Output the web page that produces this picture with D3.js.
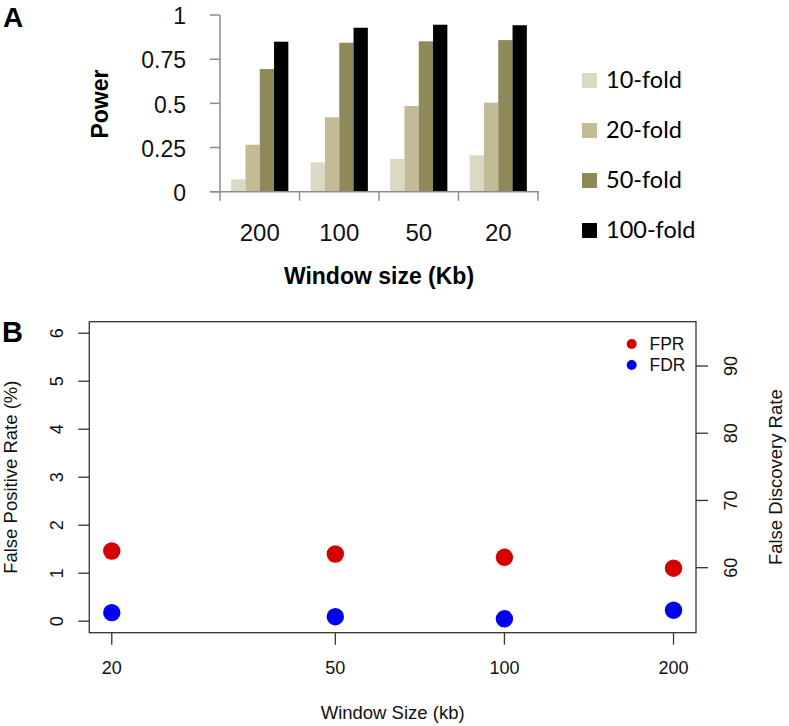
<!DOCTYPE html>
<html>
<head>
<meta charset="utf-8">
<script src="https://cdn.jsdelivr.net/npm/d3@7"></script>
<style>
  html, body { margin: 0; padding: 0; background: #fff; }
  svg { display: block; }
</style>
</head>
<body>
<svg id="chart" width="789" height="726"></svg>
<script>
// ---------- Panel A data ----------
const categoriesA = ["200", "100", "50", "20"];
const seriesA = ["10-fold", "20-fold", "50-fold", "100-fold"];
const power10 = [0.070, 0.166, 0.185, 0.206];
const power20 = [0.266, 0.421, 0.485, 0.504];
const power50 = [0.694, 0.843, 0.851, 0.858];
const power100 = [0.849, 0.928, 0.945, 0.942];
const seriesColorsA = ["#dbd8c3", "#c2bb96", "#8f8859", "#000000"];
const yTicksA = [0, 0.25, 0.5, 0.75, 1];
const yTickLabelsA = ["0", "0.25", "0.5", "0.75", "1"];

// ---------- Panel B data ----------
const windowB = [20, 50, 100, 200];
const fprB = [1.462, 1.400, 1.331, 1.104];
const fdrB = [53.31, 52.71, 52.40, 53.68];
const yTicksLeftB = [0, 1, 2, 3, 4, 5, 6];
const yTicksRightB = [60, 70, 80, 90];
const legendB = ["FPR", "FDR"];
const colorsB = ["#d40000", "#0000f0"];

const svg = d3.select("#chart");

function rotatedText(parent, x, y, str) {
  const g = parent.append("g").attr("transform", "translate(" + x + "," + y + ")");
  return g.append("text").attr("x", 0).attr("y", 0).attr("transform", "rotate(-90)").text(str);
}

// ================= Panel A =================
const A = { left: 220, right: 538, top: 15, bottom: 191.7 };
const x0 = d3.scaleBand().domain(categoriesA).range([A.left, A.right]).padding(0);
const x1 = d3.scaleBand().domain(seriesA).range([0, x0.bandwidth()]).paddingInner(0).paddingOuter(0.78);
const yA = d3.scaleLinear().domain([0, 1]).range([A.bottom, A.top]);
const colorA = d3.scaleOrdinal().domain(seriesA).range(seriesColorsA);
const valuesA = [power10, power20, power50, power100];

const gA = svg.append("g");
categoriesA.forEach((c, ci) => {
  seriesA.forEach((s, si) => {
    gA.append("rect")
      .attr("x", x0(c) + x1(s))
      .attr("y", yA(valuesA[si][ci]))
      .attr("width", x1.bandwidth())
      .attr("height", yA(0) - yA(valuesA[si][ci]))
      .attr("fill", colorA(s));
  });
});

// y axis A
const axisColA = "#8c8c8c";
gA.append("line").attr("x1", A.left).attr("x2", A.left).attr("y1", yA(1)).attr("y2", yA(0))
  .attr("stroke", axisColA).attr("stroke-width", 1.5);
yTicksA.forEach((t, i) => {
  gA.append("line").attr("x1", A.left - 10).attr("x2", A.left).attr("y1", yA(t)).attr("y2", yA(t))
    .attr("stroke", axisColA).attr("stroke-width", 1.5);
  gA.append("text").attr("x", 186).attr("y", yA(t)).attr("dy", "0.4em")
    .attr("text-anchor", "end").attr("font-family", "Liberation Sans, Arial, sans-serif")
    .attr("font-size", 23).attr("fill", "#111").text(yTickLabelsA[i]);
});
// x axis A
gA.append("line").attr("x1", A.left - 10).attr("x2", A.right + 1).attr("y1", yA(0)).attr("y2", yA(0))
  .attr("stroke", axisColA).attr("stroke-width", 1.5);
const boundaries = categoriesA.map(c => x0(c)).concat([x0(categoriesA[categoriesA.length - 1]) + x0.bandwidth()]);
boundaries.forEach(bx => {
  gA.append("line").attr("x1", bx).attr("x2", bx).attr("y1", yA(0)).attr("y2", yA(0) + 9)
    .attr("stroke", axisColA).attr("stroke-width", 1.5);
});
categoriesA.forEach(c => {
  gA.append("text").attr("x", x0(c) + x0.bandwidth() / 2).attr("y", 241)
    .attr("text-anchor", "middle").attr("font-family", "Liberation Sans, Arial, sans-serif")
    .attr("font-size", 24).attr("fill", "#111").text(c);
});
gA.append("text").attr("x", (A.left + A.right) / 2).attr("y", 284)
  .attr("text-anchor", "middle").attr("font-family", "Liberation Sans, Arial, sans-serif")
  .attr("font-weight", "bold").attr("font-size", 23).attr("fill", "#000").text("Window size (Kb)");
rotatedText(gA, 108, 104, "Power")
  .attr("text-anchor", "middle").attr("font-family", "Liberation Sans, Arial, sans-serif")
  .attr("font-weight", "bold").attr("font-size", 23).attr("fill", "#000");
gA.append("text").attr("x", 3).attr("y", 27)
  .attr("font-family", "Liberation Sans, Arial, sans-serif")
  .attr("font-weight", "bold").attr("font-size", 28).attr("fill", "#000").text("A");

// legend A
seriesA.forEach((s, i) => {
  const ly = 73 + i * 50;
  gA.append("rect").attr("x", 582).attr("y", ly).attr("width", 15).attr("height", 15).attr("fill", colorA(s));
  gA.append("text").attr("x", 606).attr("y", ly + 14.5)
    .attr("font-family", "Lato, Open Sans, sans-serif").attr("font-size", 23.5)
    .attr("fill", "#000").text(s);
});

// ================= Panel B =================
const B = { left: 89.3, right: 696, top: 321.7, bottom: 632.7 };
const logExt = d3.extent(windowB).map(Math.log10);
const pad = (logExt[1] - logExt[0]) * 0.04;
const xB = d3.scaleLog().domain([Math.pow(10, logExt[0] - pad), Math.pow(10, logExt[1] + pad)]).range([B.left, B.right]);
const yL = d3.scaleLinear().domain([-0.24, 6.24]).range([B.bottom, B.top]);
const yR = d3.scaleLinear().domain([50.33, 96.59]).range([B.bottom, B.top]);
const fontB = "Liberation Sans, Arial, Helvetica, sans-serif";
const axisColB = "#333";
const gB = svg.append("g");

gB.append("rect").attr("x", B.left).attr("y", B.top).attr("width", B.right - B.left).attr("height", B.bottom - B.top)
  .attr("fill", "none").attr("stroke", axisColB).attr("stroke-width", 1.3);

// left axis
yTicksLeftB.forEach(t => {
  gB.append("line").attr("x1", B.left - 11).attr("x2", B.left).attr("y1", yL(t)).attr("y2", yL(t))
    .attr("stroke", axisColB).attr("stroke-width", 1.3);
  rotatedText(gB, 63.3, yL(t), String(t))
    .attr("text-anchor", "middle").attr("font-family", fontB).attr("font-size", 18).attr("fill", "#111");
});
// right axis
yTicksRightB.forEach(t => {
  gB.append("line").attr("x1", B.right).attr("x2", B.right + 12).attr("y1", yR(t)).attr("y2", yR(t))
    .attr("stroke", axisColB).attr("stroke-width", 1.3);
  rotatedText(gB, 736.7, yR(t), String(t))
    .attr("text-anchor", "middle").attr("font-family", fontB).attr("font-size", 18).attr("fill", "#111");
});
// bottom axis
windowB.forEach(t => {
  gB.append("line").attr("x1", xB(t)).attr("x2", xB(t)).attr("y1", B.bottom).attr("y2", B.bottom + 12)
    .attr("stroke", axisColB).attr("stroke-width", 1.3);
  gB.append("text").attr("x", xB(t)).attr("y", 674)
    .attr("text-anchor", "middle").attr("font-family", fontB).attr("font-size", 18).attr("fill", "#111").text(t);
});
// titles
gB.append("text").attr("x", (B.left + B.right) / 2).attr("y", 719)
  .attr("text-anchor", "middle").attr("font-family", fontB).attr("font-size", 18.5).attr("fill", "#111").text("Window Size (kb)");
rotatedText(gB, 17.3, (B.top + B.bottom) / 2, "False Positive Rate (%)")
  .attr("text-anchor", "middle").attr("font-family", fontB).attr("font-size", 18.5).attr("fill", "#111");
rotatedText(gB, 781.7, (B.top + B.bottom) / 2, "False Discovery Rate")
  .attr("text-anchor", "middle").attr("font-family", fontB).attr("font-size", 18.5).attr("fill", "#111");
gB.append("text").attr("x", 2).attr("y", 342)
  .attr("font-family", "Liberation Sans, Arial, sans-serif")
  .attr("font-weight", "bold").attr("font-size", 29).attr("fill", "#000").text("B");

// points
windowB.forEach((w, i) => {
  gB.append("circle").attr("cx", xB(w)).attr("cy", yL(fprB[i])).attr("r", 8.7).attr("fill", colorsB[0]);
  gB.append("circle").attr("cx", xB(w)).attr("cy", yR(fdrB[i])).attr("r", 8.7).attr("fill", colorsB[1]);
});

// legend B
legendB.forEach((s, i) => {
  const ly = 344 + i * 21;
  gB.append("circle").attr("cx", 631.7).attr("cy", ly).attr("r", 5).attr("fill", colorsB[i]);
  gB.append("text").attr("x", 649.5).attr("y", ly + 6.3)
    .attr("font-family", fontB).attr("font-size", 17.5).attr("fill", "#111").text(s);
});
</script>
</body>
</html>
